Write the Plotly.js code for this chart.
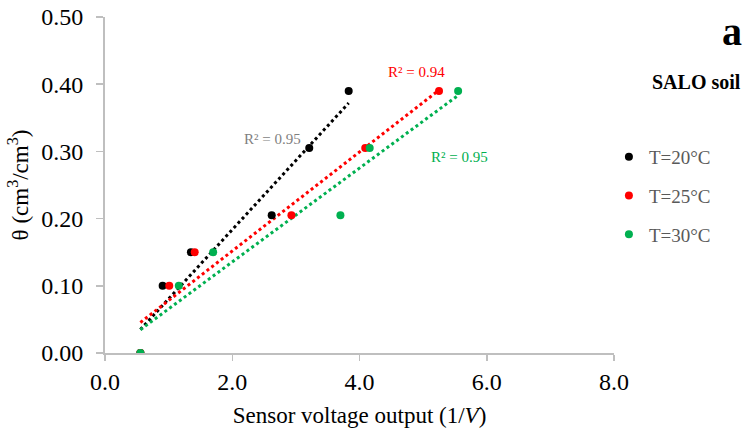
<!DOCTYPE html>
<html>
<head>
<meta charset="utf-8">
<script src="https://cdn.plot.ly/plotly-3.0.1.min.js"></script>
<style>
  html, body { margin: 0; padding: 0; background: #ffffff; }
  #chart { width: 748px; height: 441px; }
</style>
</head>
<body>
<div id="chart"></div>
<script>
// Volumetric water content vs. sensor output (1/V) at three temperatures
const seriesNames = ['T=20°C', 'T=25°C', 'T=30°C'];
const seriesColors = ['#000000', '#ff0000', '#00b050'];

const theta = [0.00, 0.10, 0.15, 0.205, 0.305, 0.39];

const sensor20 = [0.556, 0.906, 1.35, 2.62, 3.21, 3.83];
const sensor25 = [0.556, 1.01, 1.41, 2.93, 4.09, 5.25];
const sensor30 = [0.556, 1.16, 1.70, 3.70, 4.16, 5.55];

const r2Labels = ['R² = 0.95', 'R² = 0.94', 'R² = 0.95'];
const r2Colors = ['#7f7f7f', '#ff0000', '#00b050'];
const r2Pos = [[2.635, 0.3185], [4.894, 0.418], [5.576, 0.2917]];

const xTicks = [0, 2, 4, 6, 8];
const yTicks = [0, 0.1, 0.2, 0.3, 0.4, 0.5];

const sensorSets = [sensor20, sensor25, sensor30];

// ordinary least-squares line through a series
function linearFit(xs, ys) {
  const n = xs.length;
  const mx = xs.reduce((a, b) => a + b, 0) / n;
  const my = ys.reduce((a, b) => a + b, 0) / n;
  let sxy = 0, sxx = 0;
  for (let i = 0; i < n; i++) {
    sxy += (xs[i] - mx) * (ys[i] - my);
    sxx += (xs[i] - mx) * (xs[i] - mx);
  }
  const slope = sxy / sxx;
  return { slope: slope, intercept: my - slope * mx };
}

const serif = 'Liberation Serif';
const traces = [];

// dotted linear trendlines
sensorSets.forEach((xs, i) => {
  const fit = linearFit(xs, theta);
  const x0 = Math.min(...xs), x1 = Math.max(...xs);
  traces.push({
    type: 'scatter', mode: 'lines',
    x: [x0, x1],
    y: [fit.intercept + fit.slope * x0, fit.intercept + fit.slope * x1],
    line: { color: seriesColors[i], width: 3, dash: 'dot' },
    showlegend: false, hoverinfo: 'skip'
  });
});

// measured points
sensorSets.forEach((xs, i) => {
  traces.push({
    type: 'scatter', mode: 'markers',
    name: seriesNames[i],
    legendgroup: 'g' + i,
    x: xs, y: theta,
    marker: { color: seriesColors[i], size: 8 }
  });
});

const annotations = r2Labels.map((t, i) => ({
  text: t, x: r2Pos[i][0], y: r2Pos[i][1], xref: 'x', yref: 'y',
  xanchor: 'center', yanchor: 'middle',
  showarrow: false, font: { family: serif, size: 15, color: r2Colors[i] }
}));
annotations.push({
  text: '<b>SALO soil</b>', xref: 'paper', yref: 'paper', x: 1.162, y: 0.806,
  xanchor: 'center', yanchor: 'middle',
  showarrow: false, font: { family: serif, size: 20, color: '#000000' }
});
annotations.push({
  text: '<b>a</b>', xref: 'paper', yref: 'paper', x: 1.232, y: 0.958,
  xanchor: 'center', yanchor: 'middle',
  showarrow: false, font: { family: serif, size: 40, color: '#000000' }
});

const layout = {
  width: 748, height: 441,
  margin: { l: 104.5, r: 133.5, t: 16.7, b: 87.5 },
  paper_bgcolor: '#ffffff', plot_bgcolor: '#ffffff',
  font: { family: serif, color: '#000000' },
  showlegend: true,
  legend: {
    x: 0.99, xanchor: 'left', y: 0.64, yanchor: 'top',
    font: { family: serif, size: 19, color: '#595959' },
    tracegroupgap: 11, bgcolor: 'rgba(0,0,0,0)'
  },
  xaxis: {
    range: [0, 8], tickvals: xTicks, tickformat: '.1f',
    showgrid: false, zeroline: false,
    showline: true, linecolor: '#bfbfbf', linewidth: 2,
    ticks: 'outside', ticklen: 6, tickcolor: '#bfbfbf', tickwidth: 1.5,
    tickfont: { family: serif, size: 24, color: '#000000' },
    title: { text: 'Sensor voltage output (1/<i>V</i>)', standoff: 13,
             font: { family: serif, size: 23, color: '#000000' } }
  },
  yaxis: {
    range: [0, 0.5], tickvals: yTicks, tickformat: '.2f',
    showgrid: false, zeroline: false,
    showline: true, linecolor: '#bfbfbf', linewidth: 2,
    ticks: 'outside', ticklen: 7, tickcolor: '#bfbfbf', tickwidth: 1.5,
    ticklabelstandoff: 8,
    tickfont: { family: serif, size: 24, color: '#000000' },
    title: { text: 'θ (cm<sup>3</sup>/cm<sup>3</sup>)', standoff: 6,
             font: { family: serif, size: 23, color: '#000000' } }
  },
  annotations: annotations
};

Plotly.newPlot('chart', traces, layout, { staticPlot: true, displayModeBar: false });
</script>
</body>
</html>
